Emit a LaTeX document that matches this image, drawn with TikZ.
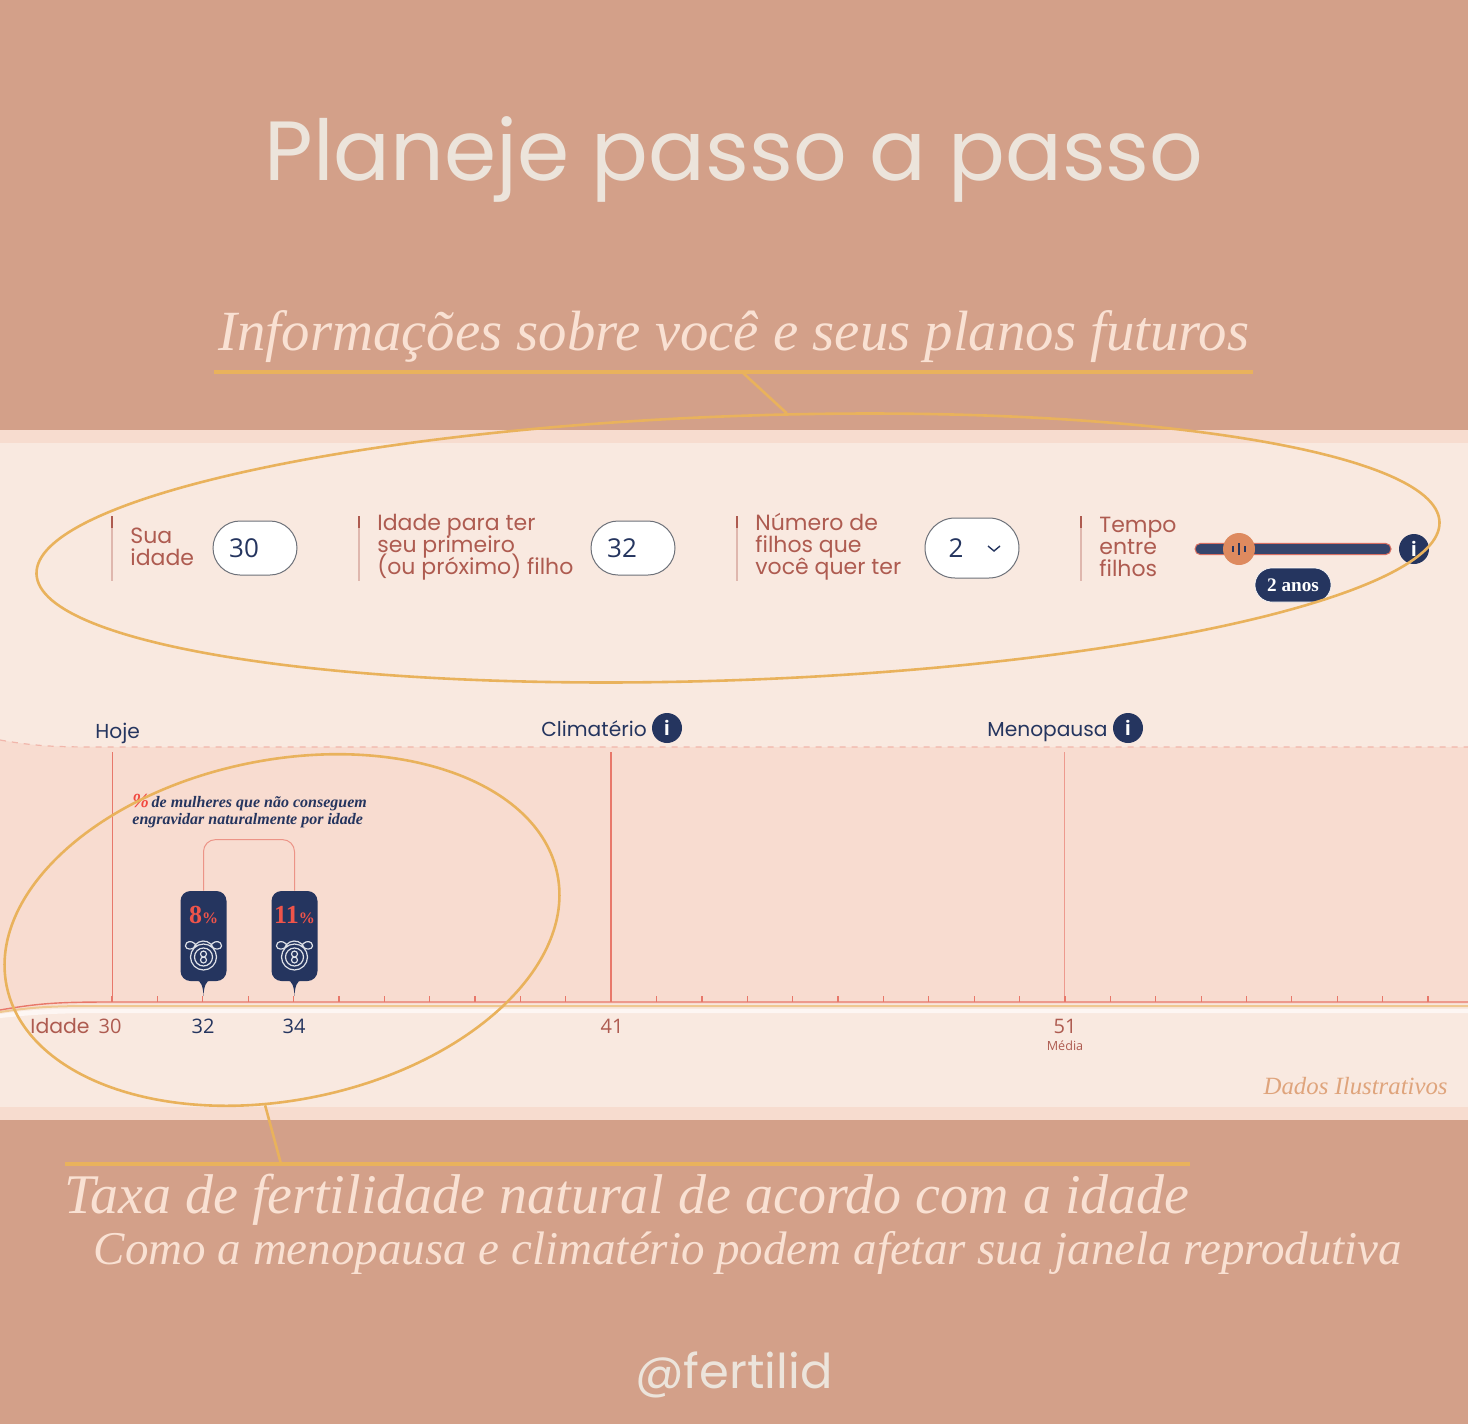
\documentclass[tikz,border=0pt]{standalone}
\usepackage{fontspec}
\setmainfont{Liberation Serif}
\newfontfamily\roundfont{Poppins}
\newfontfamily\plainfont{Open Sans}
\usetikzlibrary{positioning,shapes.geometric}
\definecolor{bgclay}{HTML}{D3A089}
\definecolor{panelrim}{HTML}{F7DCCF}
\definecolor{panelbg}{HTML}{F9E9E0}
\definecolor{chartbg}{HTML}{F8DCD0}
\definecolor{navyink}{HTML}{25355F}
\definecolor{brickink}{HTML}{AE5B50}
\definecolor{redline}{HTML}{E8786A}
\definecolor{goldline}{HTML}{E9B25C}
\definecolor{headink}{HTML}{F9E1D3}
\definecolor{titleink}{HTML}{ECE4DB}
\definecolor{knobink}{HTML}{DE8A5F}
\AtBeginDocument{\normallineskiplimit=-30pt \lineskiplimit=-30pt}
\begin{document}
\begin{tikzpicture}[x=0.5pt,y=-0.5pt,
		headnode/.style={inner sep=0pt, text=headink, font=\fontsize{28.4}{30}\selectfont\itshape},
		asknode/.style={inner sep=0pt, anchor=west, align=left, text=brickink, font=\roundfont\fontsize{11}{11}\selectfont},
		datenode/.style={inner sep=0pt, anchor=base west, text=navyink, font=\roundfont\fontsize{10.1}{12}\selectfont},
		agenode/.style={inner sep=0pt, font=\plainfont\fontsize{10}{12}\selectfont},
		fieldnode/.style={rectangle, fill=white, draw=gray!80!navyink, line width=0.5pt, rounded corners=13.5pt, minimum width=42pt, minimum height=27pt, inner sep=0pt},
		infonode/.style={circle, fill=navyink, text=white, inner sep=0pt, minimum size=15pt, font=\plainfont\bfseries\fontsize{10}{12}\selectfont},
		pinnode/.style={rectangle, fill=navyink, rounded corners=5pt, minimum width=23pt, minimum height=45pt, inner sep=0pt},
		ringnode/.style={ellipse, draw=goldline, line width=1.3pt, inner sep=0pt},
		medal/.pic={
			\draw[white!85!navyink, line width=0.6pt]
				(0,0) circle (13) (0,0) circle (9)
				(0,-3) circle (3) (0,3) circle (3)
				(-10,-9) arc (200:340:10.6)
				(-10,-9) .. controls (-16,-6) and (-20,-10) .. (-17,-14)
				(-17,-14) .. controls (-14,-17) and (-9,-15) .. (-7,-11)
				(10,-9) .. controls (16,-6) and (20,-10) .. (17,-14)
				(17,-14) .. controls (14,-17) and (9,-15) .. (7,-11);
		},
	]
	\useasboundingbox (0,0) rectangle (1468,1424);

	%Background
	\fill[bgclay] (0,0) rectangle (1468,1424);
	\fill[panelrim] (0,430) rectangle (1468,1120);
	\fill[panelbg] (0,443) rectangle (1468,1107);
	\fill[chartbg] (0,740) .. controls (40,747) and (60,747) .. (110,747) -- (1468,747) -- (1468,1004) -- (110,1004) .. controls (60,1004) and (40,1006) .. (0,1012) -- cycle;
	\draw[redline!45!panelbg, line width=0.6pt, dashed] (0,740) .. controls (40,747) and (60,747) .. (110,747) -- (1468,747);

	%Title and captions
	\node[inner sep=0pt, text=titleink, font=\roundfont\fontsize{42}{48}\selectfont] (title) at (734,159) {Planeje passo a passo};
	\node[headnode] (headA) at (734,337) {Informações sobre você e seus planos futuros};
	\node[headnode, font=\fontsize{28}{30}\selectfont\itshape] (headB) at (627,1200) {Taxa de fertilidade natural de acordo com a idade};
	\node[headnode, font=\fontsize{23.5}{26}\selectfont\itshape] (headC) at (748,1253) {Como a menopausa e climatério podem afetar sua janela reprodutiva};
	\node[inner sep=0pt, text=titleink, font=\roundfont\fontsize{24}{28}\selectfont] (handle) at (734,1375) {@fertilid};
	\coordinate (ruleA) at (742,372);
	\coordinate (ruleB) at (281,1164);
	\draw[goldline, line width=2pt] (214,372) -- (ruleA) -- (1253,372);
	\draw[goldline, line width=2pt] (65,1164) -- (ruleB) -- (1190,1164);

	%Form
	\foreach \barx in {112,359,737,1081} {
		\draw[brickink!35!panelbg, line width=1pt] (\barx,516) -- (\barx,581);
		\draw[brickink, line width=1pt] (\barx,516) -- (\barx,528);
	}
	\node[asknode] (askA) at (130,547) {Sua\\idade};
	\node[asknode] (askB) at (377,547) {Idade para ter\\seu primeiro\\(ou próximo) filho};
	\node[asknode] (askC) at (755,547) {Número de\\filhos que\\você quer ter};
	\node[asknode] (askD) at (1099,547) {Tempo\\entre\\filhos};
	\node[fieldnode] (fieldA) at (255,548) {};
	\node[fieldnode] (fieldB) at (633,548) {};
	\node[fieldnode, minimum width=47pt, minimum height=30pt, rounded corners=15pt] (fieldC) at (972,548) {};
	\node[agenode, text=navyink, font=\plainfont\fontsize{13}{15}\selectfont] (numA) at (244,548) {30};
	\node[agenode, text=navyink, font=\plainfont\fontsize{13}{15}\selectfont] (numB) at (622,548) {32};
	\node[agenode, text=navyink, font=\plainfont\fontsize{13}{15}\selectfont] (numC) at (956,548) {2};
	\coordinate (chevron) at (994,548);
	\draw[navyink, line width=0.7pt] ([xshift=-3pt,yshift=1pt]chevron) -- ([yshift=-1.5pt]chevron) -- ([xshift=3pt,yshift=1pt]chevron);

	%Slider
	\node[rectangle, fill=navyink!92!white, draw=redline!70!brickink, line width=0.5pt, rounded corners=2.7pt, minimum width=98pt, minimum height=5.6pt, inner sep=0pt] (track) at (1293,549) {};
	\node[circle, fill=knobink, inner sep=0pt, minimum size=16pt] (knob) at (1239,549) {};
	\foreach \tickx/\tickh in {-6/3,0/6,6/3} {
		\draw[navyink, line width=0.7pt] ([xshift=\tickx*0.5pt,yshift=\tickh*0.5pt]knob.center) -- ([xshift=\tickx*0.5pt,yshift=-\tickh*0.5pt]knob.center);
	}
	\node[infonode] (infoA) at (1414,549) {i};
	\node[rectangle, fill=navyink, draw=white, line width=0.3pt, rounded corners=8.5pt, minimum width=38pt, minimum height=17pt, inner sep=0pt, text=white, font=\bfseries\fontsize{9.6}{11}\selectfont] (years) at (1293,585) {2 anos};

	%Timeline labels
	\node[datenode] (today) at (95,738) {Hoje};
	\node[datenode] (climate) at (541,736) {Climatério};
	\node[infonode] (infoB) at (667,728) {i};
	\node[datenode] (pause) at (987,736) {Menopausa};
	\node[infonode] (infoC) at (1128,728) {i};

	%Axis
	\coordinate (axisA) at (112,1002);
	\coordinate (axisB) at (611,1002);
	\coordinate (axisC) at (1064,1002);
	\draw[redline, line width=0.5pt] (112,752) -- (axisA);
	\draw[redline, line width=0.7pt] (611,752) -- (axisB);
	\draw[redline!70!panelbg, line width=0.5pt] (1064,752) -- (axisC);
	\fill[white!60!panelbg] (0,1014) .. controls (40,1008) and (60,1009) .. (110,1009) -- (1468,1009) -- (1468,1013) -- (110,1013) .. controls (60,1013) and (40,1014) .. (0,1018) -- cycle;
	\draw[goldline!60!panelbg, line width=1pt] (0,1012) .. controls (40,1006) and (60,1006) .. (110,1006) -- (1468,1006);
	\draw[redline, line width=0.7pt] (0,1010) .. controls (40,1003) and (60,1002) .. (axisA) -- (1468,1002);
	\foreach \n in {0,...,30} {
		\draw[redline, line width=0.6pt] (112+\n*45.38,996) -- (112+\n*45.38,1002);
	}
	\node[agenode, text=brickink, font=\roundfont\fontsize{10.2}{12}\selectfont] (ageword) at (60,1026) {Idade};
	\node[agenode, text=brickink] (ageA) at (110,1026) {30};
	\node[agenode, text=navyink] (ageB) at (203,1026) {32};
	\node[agenode, text=navyink] (ageC) at (294,1026) {34};
	\node[agenode, text=brickink] (ageD) at (612,1026) {41};
	\node[agenode, text=brickink] (ageE) at (1065,1026) {51};
	\node[agenode, text=brickink, font=\plainfont\fontsize{6.3}{7}\selectfont] (average) at (1065,1046) {Média};
	\node[inner sep=0pt, anchor=east, text=bgclay!80!orange!90!white, font=\fontsize{12.4}{14}\selectfont\itshape] (dados) at (1448,1086) {Dados Ilustrativos};

	%Note
	\node[inner sep=0pt, anchor=north west, align=left, text=navyink, font=\fontsize{8}{8.6}\selectfont\bfseries\itshape] (note) at (132,794) {{\color{redline!60!red}\fontsize{10}{8.6}\selectfont\%}\,de mulheres que não conseguem\\engravidar naturalmente por idade};

	%Pins
	\node[pinnode] (pinA) at (203.5,936) {};
	\node[pinnode] (pinB) at (294.5,936) {};
	\fill[navyink] (196.5,980) .. controls (201,981) and (203,986) .. (203.5,996) .. controls (204,986) and (206,981) .. (210.5,980) -- cycle;
	\fill[navyink] (287.5,980) .. controls (292,981) and (294,986) .. (294.5,996) .. controls (295,986) and (297,981) .. (301.5,980) -- cycle;
	\node[inner sep=0pt, text=redline!70!red, font=\bfseries\fontsize{13}{14}\selectfont] (rateA) at (203.5,915) {8{\fontsize{8}{8}\selectfont\%}};
	\node[inner sep=0pt, text=redline!70!red, font=\bfseries\fontsize{13}{14}\selectfont] (rateB) at (294.5,915) {11{\fontsize{8}{8}\selectfont\%}};
	\pic at (203.5,957) {medal};
	\pic at (294.5,957) {medal};
	\draw[redline!75!panelbg, line width=0.5pt, rounded corners=6pt] (pinA.north) -- ++(0,-51) -| (pinB.north);

	%Rings
	\node[ringnode, minimum width=702pt, minimum height=132pt, rotate=2.13] (ringA) at (738,548) {};
	\node[ringnode, minimum width=281pt, minimum height=170pt, rotate=11.5] (ringB) at (282,930) {};
	\draw[goldline, line width=1.3pt] (ruleA) -- (ringA.68);
	\draw[goldline, line width=1.3pt] (ruleB) -- (ringB.-107.5);
\end{tikzpicture}
\end{document}
